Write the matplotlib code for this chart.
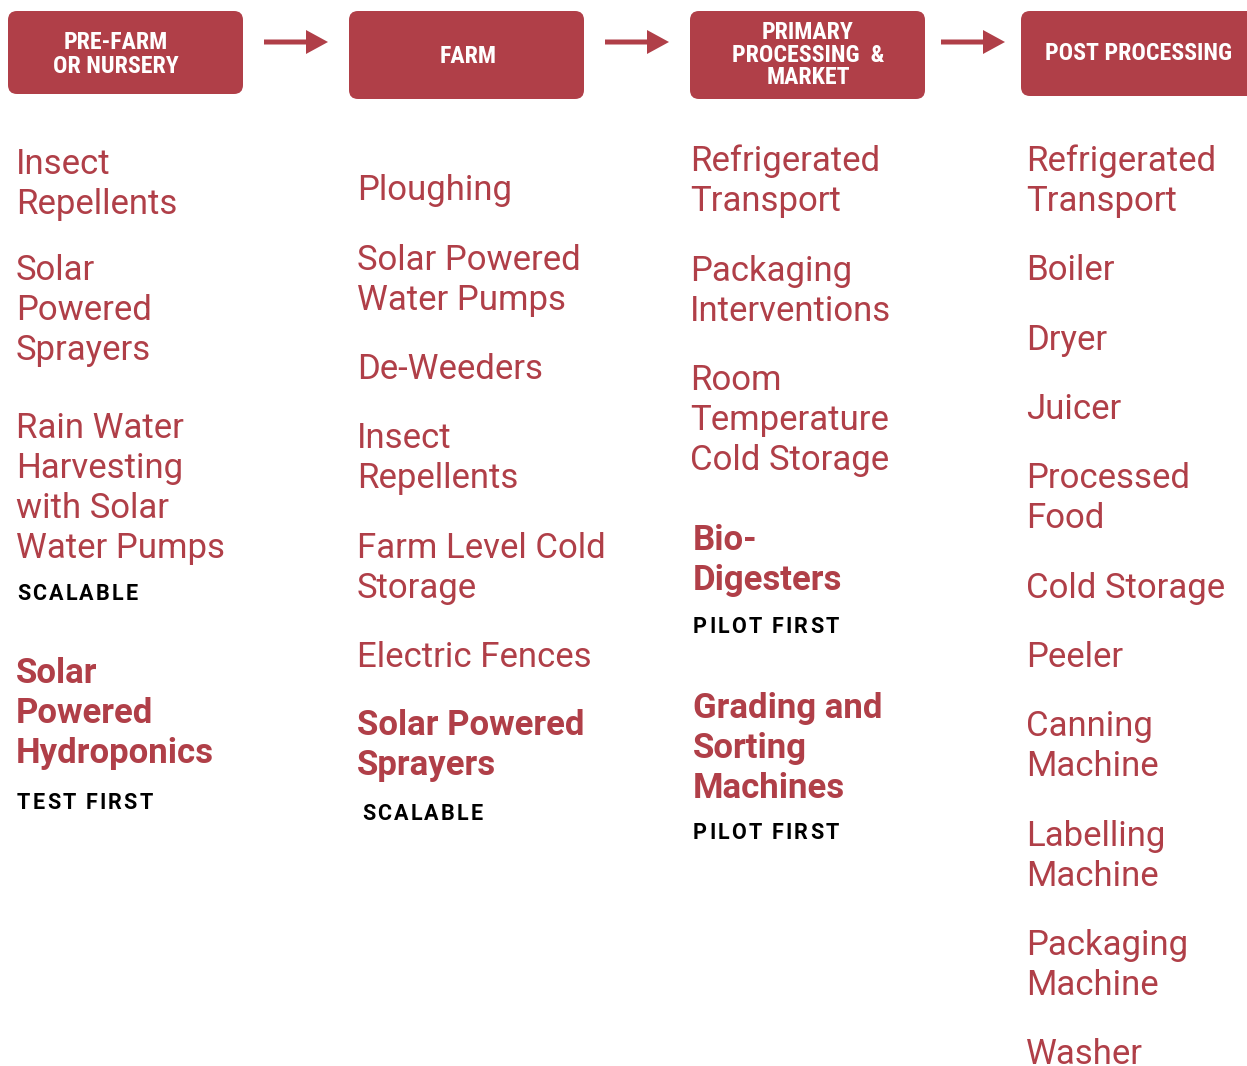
import matplotlib
matplotlib.use("Agg")
import matplotlib.pyplot as plt
from matplotlib.patches import FancyBboxPatch, FancyArrow
from matplotlib import font_manager as fm

# ---- data ----
stages = ["PRE-FARM\nOR NURSERY", "FARM", "PRIMARY\nPROCESSING  &\nMARKET", "POST PROCESSING"]

prefarm_items = ["Insect\nRepellents", "Solar\nPowered\nSprayers",
                 "Rain Water\nHarvesting\nwith Solar\nWater Pumps", "Solar\nPowered\nHydroponics"]
prefarm_bold = [False, False, False, True]
prefarm_tags = ["", "", "SCALABLE", "TEST FIRST"]

farm_items = ["Ploughing", "Solar Powered\nWater Pumps", "De-Weeders", "Insect\nRepellents",
              "Farm Level Cold\nStorage", "Electric Fences", "Solar Powered\nSprayers"]
farm_bold = [False, False, False, False, False, False, True]
farm_tags = ["", "", "", "", "", "", "SCALABLE"]

primary_items = ["Refrigerated\nTransport", "Packaging\nInterventions",
                 "Room\nTemperature\nCold Storage", "Bio-\nDigesters",
                 "Grading and\nSorting\nMachines"]
primary_bold = [False, False, False, True, True]
primary_tags = ["", "", "", "PILOT FIRST", "PILOT FIRST"]

post_items = ["Refrigerated\nTransport", "Boiler", "Dryer", "Juicer", "Processed\nFood",
              "Cold Storage", "Peeler", "Canning\nMachine", "Labelling\nMachine",
              "Packaging\nMachine", "Washer"]
post_bold = [False] * 11
post_tags = [""] * 11

columns = [(prefarm_items, prefarm_bold, prefarm_tags),
           (farm_items, farm_bold, farm_tags),
           (primary_items, primary_bold, primary_tags),
           (post_items, post_bold, post_tags)]

# ---- layout (pixels) ----
W, H = 1247, 1066
RED = "#B03F48"
box_x = [8, 349, 690, 1021]
box_w = 235
box_bottom = [94, 99, 99, 96]
box_top = 11
head_cx = [116, 468, 808, 1139]
head_cy = [52, 54, 52.5, 51]
head_pitch = [24, 24, 22.5, 24]
arrow_x = [264, 605, 941]
text_x = [16, 357, 690, 1026]
tag_x = [17, 362, 693, 1027]
bold_x = [16, 357, 693, 1026]
item_y = [
    [161, 267, 425, 670],
    [187, 257, 366, 435, 545, 654, 722],
    [158, 268, 377, 537, 705],
    [158, 267, 337, 406, 475, 585, 654, 723, 833, 942, 1051],
]
tag_off = {(0, 2): 49, (0, 3): 53, (1, 6): 52, (2, 3): 50, (2, 4): 48}
LINE = 40
FS = 25
TAG_FS = 15.5
TAG_SP = 2.2

names = {f.name for f in fm.fontManager.ttflist}
if "Roboto Condensed" in names:
    HEAD_FAM, HEAD_FS = "Roboto Condensed", 17.2
else:
    HEAD_FAM, HEAD_FS = "Roboto", 14.5

fig = plt.figure(figsize=(W / 100, H / 100), dpi=100)
ax = fig.add_axes([0, 0, 1, 1])
ax.set_xlim(0, W)
ax.set_ylim(H, 0)
ax.axis("off")
renderer = fig.canvas.get_renderer()


def spaced(x, y, s, sp, **kw):
    prop = fm.FontProperties(family=kw.get("family"), weight=kw.get("fontweight"),
                             size=kw.get("fontsize"))
    for i, ch in enumerate(s):
        if i > 0:
            w, _, _ = renderer.get_text_width_height_descent(s[:i], prop, ismath=False)
        else:
            w = 0
        ax.text(x + w + i * sp, y, ch, ha="left", va="center", **kw)


for i, name in enumerate(stages):
    b = FancyBboxPatch((box_x[i], box_top), box_w, box_bottom[i] - box_top,
                       boxstyle="round,pad=0,rounding_size=9",
                       fc=RED, ec="none")
    ax.add_patch(b)
    lines = name.split("\n")
    n = len(lines)
    for k, ln in enumerate(lines):
        yy = head_cy[i] + (k - (n - 1) / 2) * head_pitch[i]
        ax.text(head_cx[i], yy, ln, ha="center", va="center_baseline",
                color="white", fontsize=HEAD_FS, fontweight="bold", family=HEAD_FAM)

for x in arrow_x:
    ax.add_patch(FancyArrow(x, 42, 64, 0, width=5, head_width=24, head_length=22,
                            length_includes_head=True, fc=RED, ec="none"))

for c, (items, bolds, tags) in enumerate(columns):
    for j, txt in enumerate(items):
        y0 = item_y[c][j]
        lines = txt.split("\n")
        for k, ln in enumerate(lines):
            ax.text(bold_x[c] if bolds[j] else text_x[c], y0 + k * LINE, ln,
                    ha="left", va="center_baseline", color=RED, fontsize=FS,
                    fontweight="bold" if bolds[j] else "normal", family="Roboto")
        if tags[j]:
            ty = y0 + (len(lines) - 1) * LINE + tag_off[(c, j)]
            spaced(tag_x[c], ty, tags[j], TAG_SP, color="black", fontsize=TAG_FS,
                   fontweight="bold", family="Roboto")

fig.savefig("out.png", dpi=100, facecolor="white")
